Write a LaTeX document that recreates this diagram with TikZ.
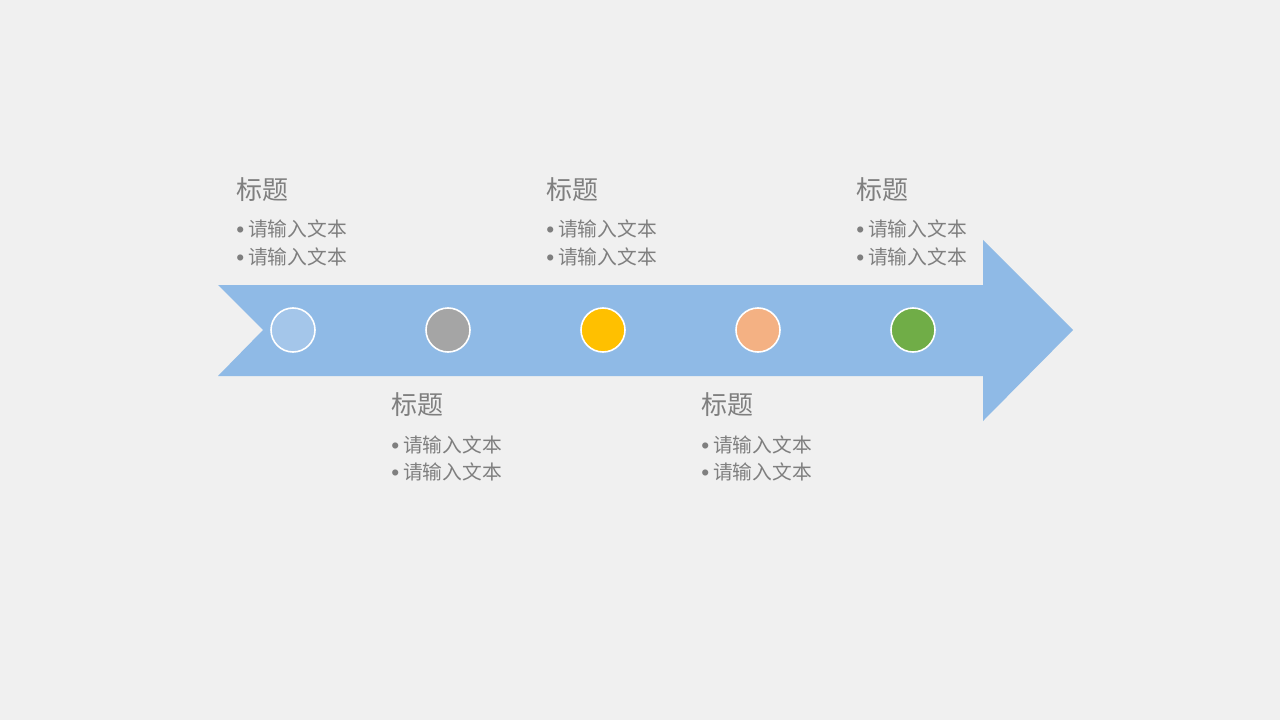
\documentclass[tikz,border=0pt]{standalone}
\usepackage{fontspec}
\setmainfont{Noto Sans CJK SC}
\newfontfamily\cjk{Noto Sans CJK SC}
\newfontfamily\bul{Liberation Sans}
\definecolor{bg}{HTML}{F0F0F0}
\definecolor{arrowblue}{HTML}{8FBAE6}
\definecolor{txt}{HTML}{7F7F7F}
\definecolor{cA}{HTML}{A4C6EA}
\definecolor{cB}{HTML}{A5A5A5}
\definecolor{cC}{HTML}{FFC000}
\definecolor{cD}{HTML}{F4B183}
\definecolor{cE}{HTML}{70AD47}
\newcommand{\bitem}{{\bul\fontsize{17pt}{17pt}\selectfont\raisebox{-0.5pt}{•}}\hspace{3pt}请输入文本}
\begin{document}
\begin{tikzpicture}[x=0.75pt,y=-0.75pt,
  dot/.style={circle,draw=white,line width=1.2pt,minimum size=44*0.75pt,inner sep=0pt},
  ttl/.style={anchor=west,inner sep=0pt,text=txt,font=\cjk\fontsize{19.5pt}{22pt}\selectfont},
  itm/.style={anchor=west,inner sep=0pt,text=txt,font=\cjk\fontsize{14.8pt}{17pt}\selectfont}]
\fill[bg] (0,0) rectangle (1280,720);
\useasboundingbox (0,0) rectangle (1280,720);
% arrow
\fill[arrowblue] (218,285) -- (983,285) -- (983,240) -- (1073,330) -- (983,421) -- (983,376) -- (218,376) -- (263,330) -- cycle;
% circles
\node[dot,fill=cA] (c1) at (293,330) {};
\node[dot,fill=cB] (c2) at (448,330) {};
\node[dot,fill=cC] (c3) at (603,330) {};
\node[dot,fill=cD] (c4) at (758,330) {};
\node[dot,fill=cE] (c5) at (913,330) {};
% top groups
\foreach \n/\x in {a/236,c/546,e/856}{
  \node[ttl] (t\n) at (\x,190) {标题};
  \node[itm] (i\n1) at (\x,229) {\bitem};
  \node[itm] (i\n2) at (\x,257) {\bitem};
}
% bottom groups
\foreach \n/\x in {b/391,d/701}{
  \node[ttl] (t\n) at (\x,405) {标题};
  \node[itm] (i\n1) at (\x,445) {\bitem};
  \node[itm] (i\n2) at (\x,472) {\bitem};
}
\end{tikzpicture}
\end{document}
